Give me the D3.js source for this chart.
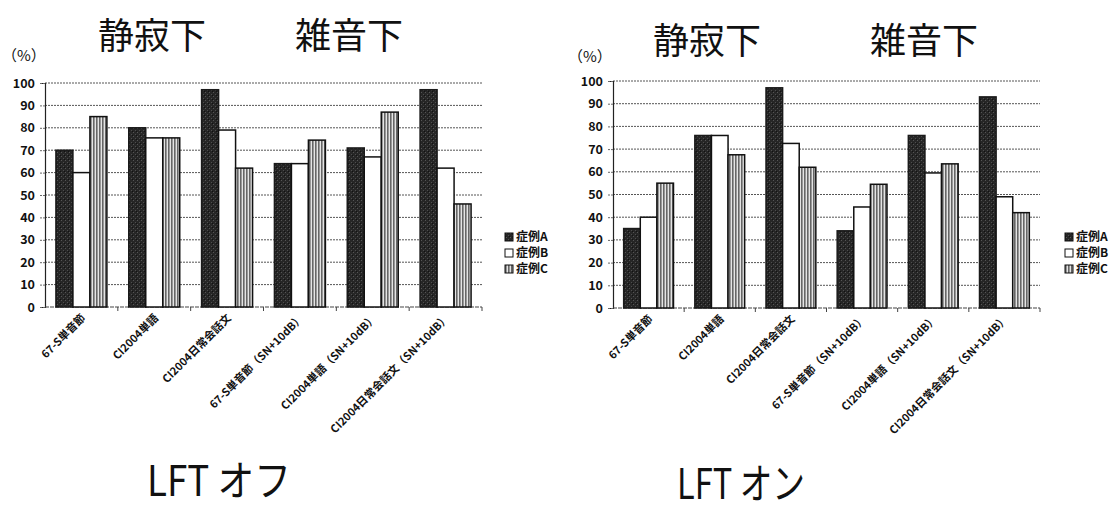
<!DOCTYPE html>
<html><head><meta charset="utf-8">
<script src="https://cdn.jsdelivr.net/npm/d3@7/dist/d3.min.js"></script>
<style>
html,body{margin:0;padding:0;background:#fff;}
svg{display:block;}
</style></head>
<body>
<svg id="c" width="1111" height="512"></svg>
<script>
const categories = ["67-S単音節","CI2004単語","CI2004日常会話文","67-S単音節（SN+10dB）","CI2004単語（SN+10dB）","CI2004日常会話文（SN+10dB）"];
const seriesNames = ["症例A","症例B","症例C"];
const yTicks = [0,10,20,30,40,50,60,70,80,90,100];
// LFT オフ
const offA = [70, 80, 97, 64, 71, 97];
const offB = [60, 75.5, 79, 64, 67, 62];
const offC = [85, 75.5, 62, 74.5, 87, 46];
// LFT オン
const onA = [35, 76, 97, 34, 76, 93];
const onB = [40, 76, 72.5, 44.5, 59.5, 49];
const onC = [55, 67.5, 62, 54.5, 63.5, 42];
const panelTitles = ["LFT オフ","LFT オン"];
const headTitles = ["静寂下","雑音下"];

const svg = d3.select("#c");
const defs = svg.append("defs");
// dark textured pattern
const pA = defs.append("pattern").attr("id","pA").attr("patternUnits","userSpaceOnUse").attr("width",4).attr("height",4);
pA.append("rect").attr("width",4).attr("height",4).attr("fill","#262626");
pA.append("rect").attr("x",1).attr("y",0).attr("width",1).attr("height",1).attr("fill","#555");
pA.append("rect").attr("x",3).attr("y",2).attr("width",1).attr("height",1).attr("fill","#4d4d4d");
pA.append("rect").attr("x",0).attr("y",3).attr("width",1).attr("height",1).attr("fill","#111");
// vertical stripe pattern
const pC = defs.append("pattern").attr("id","pC").attr("patternUnits","userSpaceOnUse").attr("width",3).attr("height",3);
pC.append("rect").attr("width",3).attr("height",3).attr("fill","#e4e4e4");
pC.append("rect").attr("x",0).attr("width",1.6).attr("height",3).attr("fill","#666");

const fills = ["url(#pA)","#ffffff","url(#pC)"];
const strokes = ["#1a1a1a","#111","#111"];
const FONT = "'Noto Sans CJK JP','Noto Sans',sans-serif";

function drawPanel(cfg, A, B, C){
  const g = svg.append("g");
  const x0 = d3.scaleBand().domain(categories).range([cfg.left, cfg.right]).paddingInner(0.3).paddingOuter(0.15);
  const x1 = d3.scaleBand().domain(seriesNames).range([0, x0.bandwidth()]);
  const y = d3.scaleLinear().domain([0,100]).range([cfg.bottom, cfg.top]);

  // gridlines
  g.append("g").selectAll("line").data(yTicks.filter(t=>t>0)).join("line")
    .attr("x1", cfg.left).attr("x2", cfg.right)
    .attr("y1", d=>y(d)).attr("y2", d=>y(d))
    .attr("stroke","#555").attr("stroke-width",1).attr("stroke-dasharray","2,1");

  // y axis
  const ya = d3.axisLeft(y).tickValues(yTicks).tickSize(5).tickPadding(5);
  const yg = g.append("g").attr("transform",`translate(${cfg.left},0)`).call(ya);
  yg.select(".domain").attr("stroke","#222").attr("stroke-width",1.2);
  yg.selectAll(".tick line").attr("stroke","#666").attr("stroke-dasharray","2,1");
  yg.selectAll(".tick text").attr("font-family",FONT).attr("font-size",12.5).attr("font-weight","bold").attr("fill","#111");

  // x axis line with boundary ticks
  g.append("line").attr("x1",cfg.left).attr("x2",cfg.right).attr("y1",cfg.bottom).attr("y2",cfg.bottom)
    .attr("stroke","#444").attr("stroke-width",1.2).attr("stroke-dasharray","4,1");
  const bounds = categories.map((c,i)=> cfg.left + x0.step()*(i+1));
  g.append("g").selectAll("line").data(bounds).join("line")
    .attr("x1",d=>d).attr("x2",d=>d).attr("y1",cfg.bottom).attr("y2",cfg.bottom+4)
    .attr("stroke","#444").attr("stroke-width",1);

  // bars
  const series = [A,B,C];
  const rows = [];
  categories.forEach((c,i)=>{ seriesNames.forEach((s,j)=>{ rows.push({c, s, j, v: series[j][i]}); }); });
  g.append("g").selectAll("rect").data(rows).join("rect")
    .attr("x", d=>x0(d.c)+x1(d.s))
    .attr("y", d=>y(d.v))
    .attr("width", x1.bandwidth())
    .attr("height", d=>y(0)-y(d.v))
    .attr("fill", d=>fills[d.j])
    .attr("stroke", d=>strokes[d.j]).attr("stroke-width",1.5);

  // x labels
  g.append("g").selectAll("text").data(categories).join("text")
    .attr("transform", d=>`translate(${x0(d)+x0.bandwidth()/2+2},${cfg.bottom+9}) rotate(-45)`)
    .attr("text-anchor","end").attr("dy","0.35em")
    .attr("font-family",FONT).attr("font-size",11).attr("font-weight","bold").attr("fill","#111")
    .text(d=>d);

  // (%)
  g.append("text").attr("x",cfg.pctX).attr("y",cfg.pctY).attr("font-family",FONT).attr("font-size",15)
    .attr("fill","#111").text("（%）");

  // header titles
  g.append("text").attr("x",cfg.h1X).attr("y",cfg.hY).attr("font-family",FONT).attr("font-size",36)
    .attr("fill","#111").text(headTitles[0]);
  g.append("text").attr("x",cfg.h2X).attr("y",cfg.hY).attr("font-family",FONT).attr("font-size",36)
    .attr("fill","#111").text(headTitles[1]);

  // legend
  const lg = g.append("g").attr("transform",`translate(${cfg.legX},${cfg.legY})`);
  seriesNames.forEach((s,j)=>{
    const row = lg.append("g").attr("transform",`translate(0,${j*16})`);
    row.append("rect").attr("x",0).attr("y",-4).attr("width",8).attr("height",8)
      .attr("fill",fills[j]).attr("stroke","#111").attr("stroke-width",1);
    row.append("text").attr("x",11).attr("y",0).attr("dy","0.35em")
      .attr("font-family",FONT).attr("font-size",12).attr("font-weight","bold").attr("fill","#111").text(s);
  });

  // bottom title
  g.append("text").attr("x",cfg.tX).attr("y",cfg.tY).attr("font-family",FONT).attr("font-size",42)
    .attr("textLength",cfg.tW).attr("lengthAdjust","spacingAndGlyphs")
    .attr("fill","#111").text(cfg.title);
}

drawPanel({left:45,right:482,top:83,bottom:307,pctX:2,pctY:61,h1X:98,h2X:295,hY:49,legX:505,legY:237,tX:147,tY:496,tW:144,title:panelTitles[0]}, offA, offB, offC);
drawPanel({left:613,right:1040,top:81,bottom:308,pctX:568,pctY:62,h1X:653,h2X:870,hY:54,legX:1065,legY:237,tX:677,tY:499,tW:128,title:panelTitles[1]}, onA, onB, onC);
</script>
</body></html>
